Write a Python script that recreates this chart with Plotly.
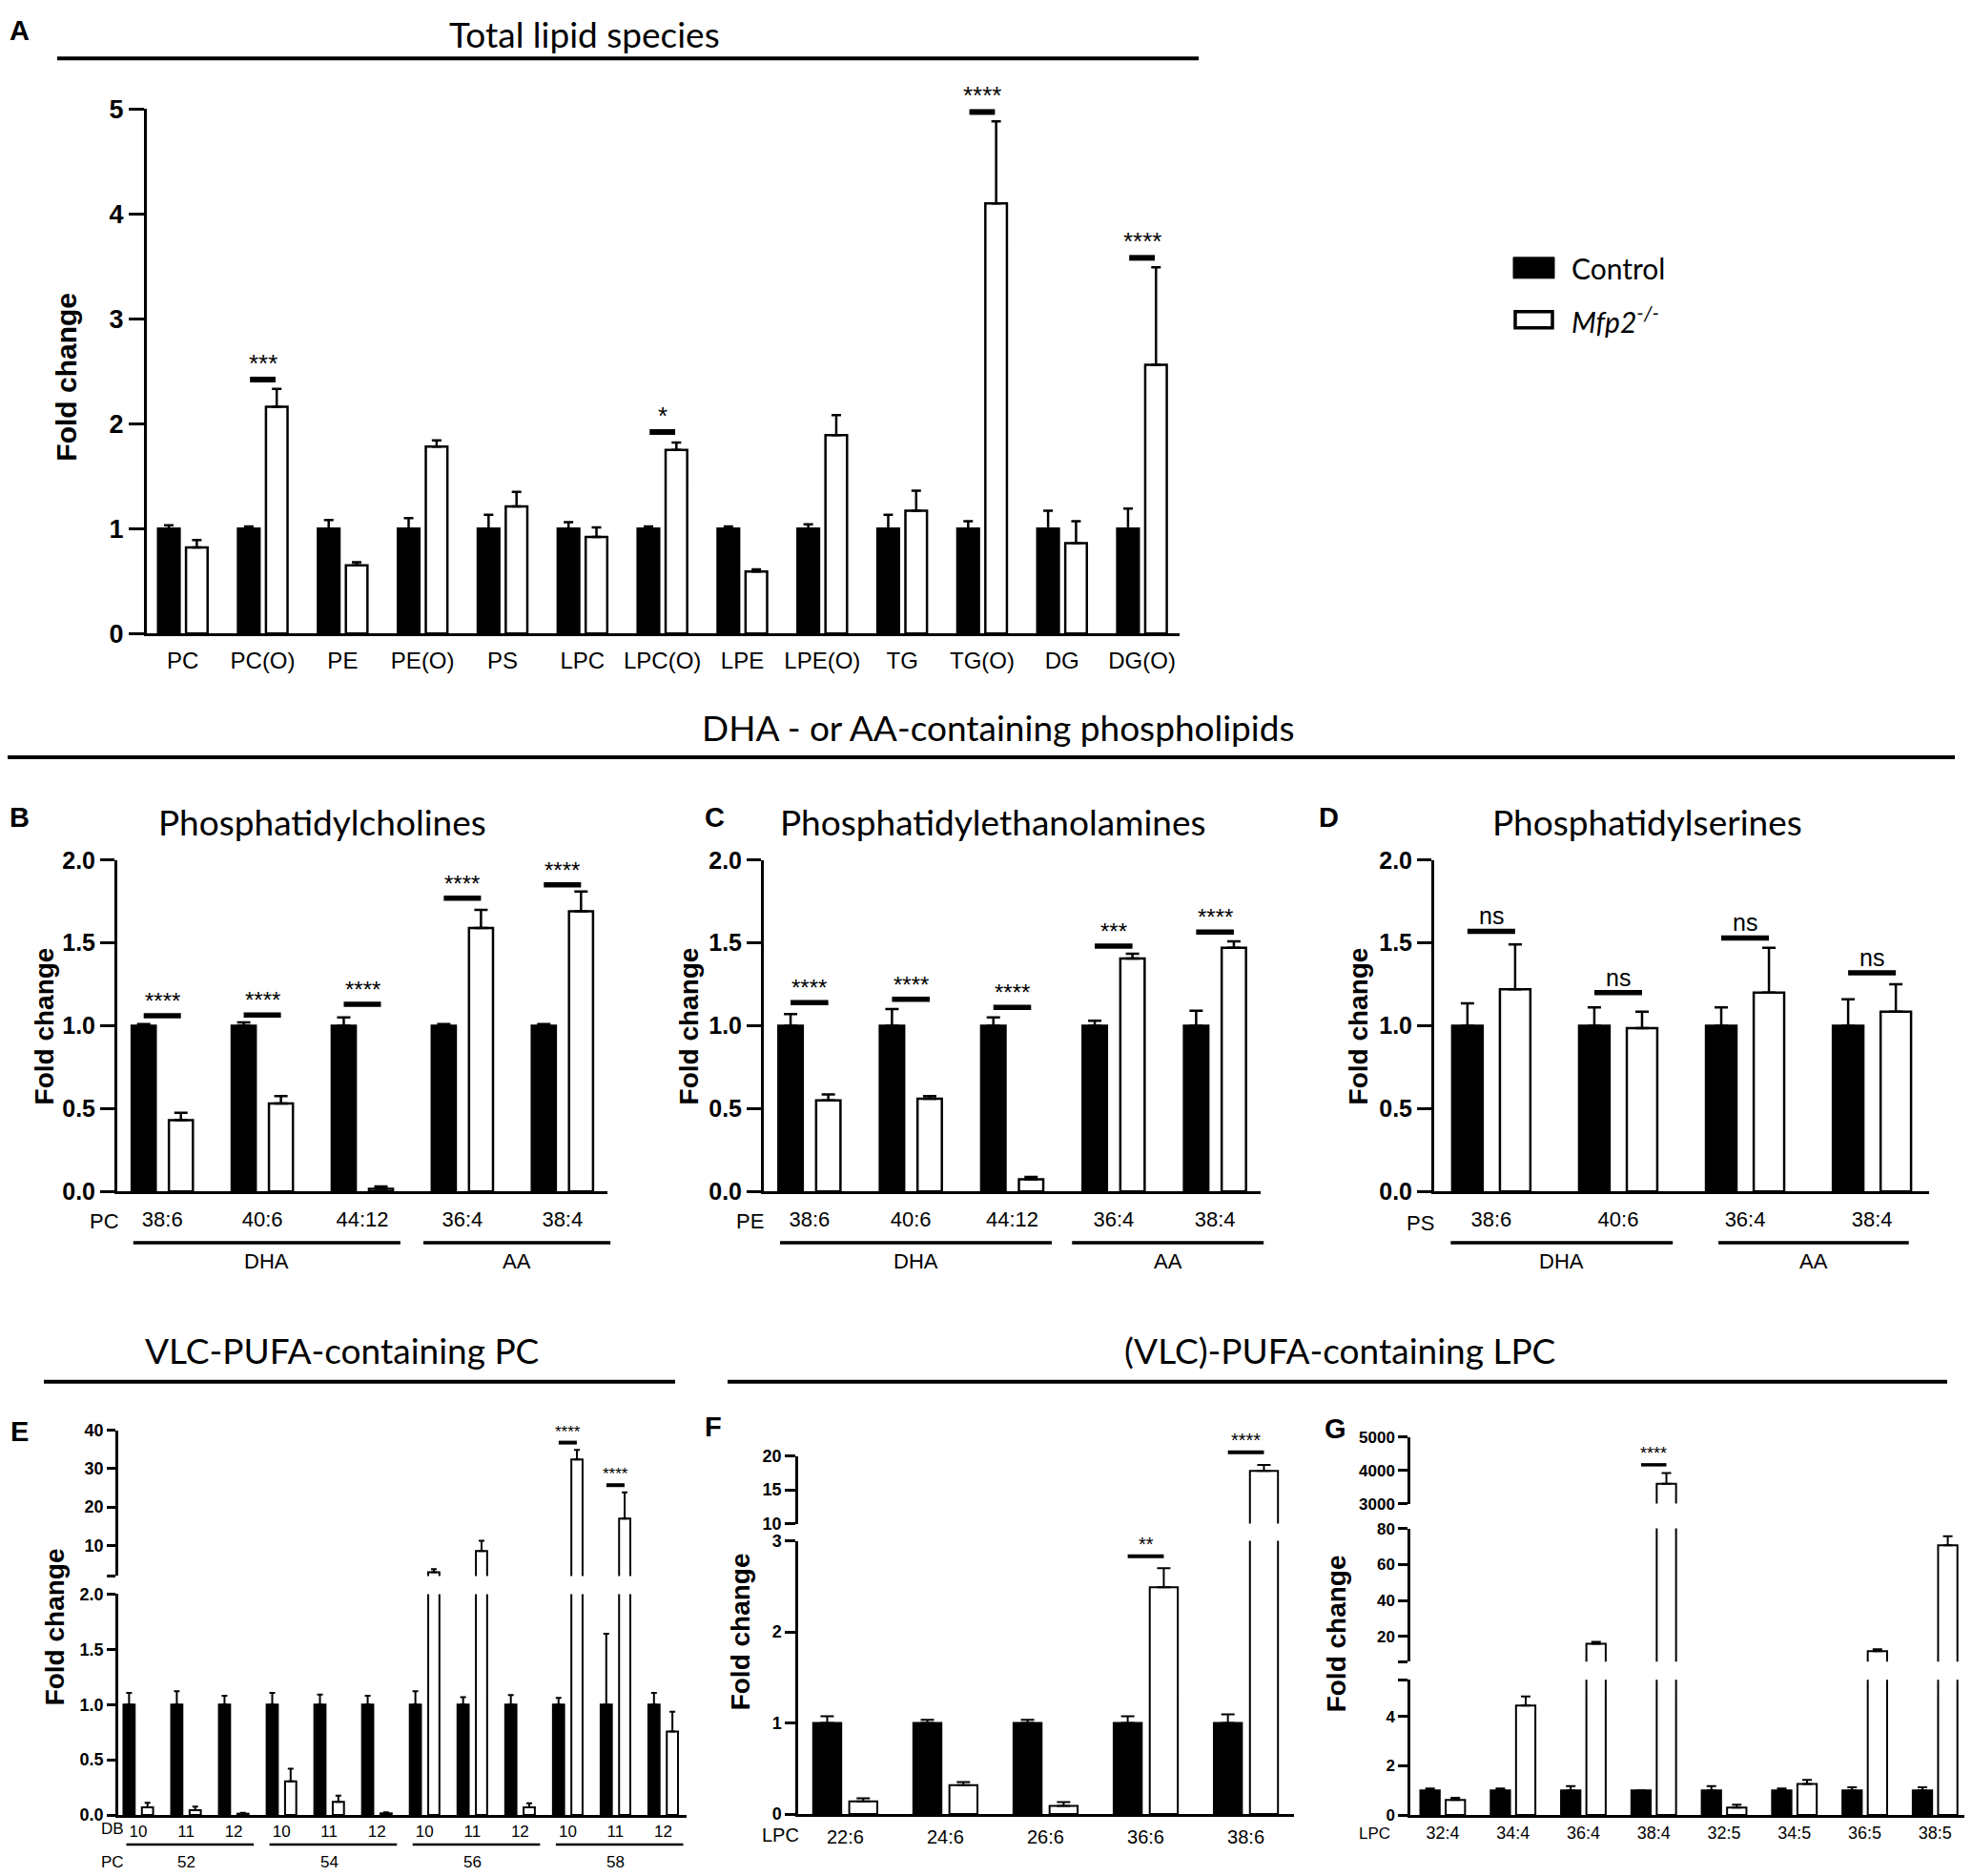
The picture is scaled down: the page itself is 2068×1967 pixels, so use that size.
import plotly.graph_objects as go

W, H = 2068, 1967
PAGE_PAD = 8          # default body margin of the html page
V_SCALE = 0.9865      # vertical squeeze seen between page and photo
V_OFF = 14 + PAGE_PAD  # page rows above the figure in the photo
FW, FH = W - 2 * PAGE_PAD, 1972

# ---------------- data ----------------
# A: total lipid species
a_cats = ["PC", "PC(O)", "PE", "PE(O)", "PS", "LPC", "LPC(O)", "LPE", "LPE(O)", "TG", "TG(O)", "DG", "DG(O)"]
a_ctrl = [1, 1, 1, 1, 1, 1, 1, 1, 1, 1, 1, 1, 1]
a_ctrl_err = [0.03, 0.02, 0.08, 0.10, 0.13, 0.06, 0.02, 0.02, 0.04, 0.13, 0.07, 0.17, 0.19]
a_mfp2 = [0.82, 2.16, 0.65, 1.78, 1.21, 0.92, 1.75, 0.59, 1.89, 1.17, 4.10, 0.86, 2.56]
a_mfp2_err = [0.07, 0.17, 0.03, 0.06, 0.14, 0.09, 0.07, 0.02, 0.19, 0.19, 0.78, 0.21, 0.93]
a_sig_idx = [1, 6, 10, 12]
a_sig_txt = ["***", "*", "****", "****"]
a_sig_y = [2.42, 1.92, 4.97, 3.58]

# B: phosphatidylcholines
b_cats = ["38:6", "40:6", "44:12", "36:4", "38:4"]
b_ctrl = [1, 1, 1, 1, 1]
b_ctrl_err = [0.01, 0.02, 0.05, 0.01, 0.01]
b_mfp2 = [0.43, 0.53, 0.016, 1.59, 1.69]
b_mfp2_err = [0.045, 0.045, 0.014, 0.11, 0.12]
b_sig_idx = [0, 1, 2, 3, 4]
b_sig_txt = ["****", "****", "****", "****", "****"]
b_sig_y = [1.06, 1.065, 1.13, 1.77, 1.85]

# C: phosphatidylethanolamines
c_cats = ["38:6", "40:6", "44:12", "36:4", "38:4"]
c_ctrl = [1, 1, 1, 1, 1]
c_ctrl_err = [0.07, 0.10, 0.05, 0.03, 0.09]
c_mfp2 = [0.55, 0.56, 0.073, 1.405, 1.47]
c_mfp2_err = [0.035, 0.015, 0.014, 0.03, 0.04]
c_sig_idx = [0, 1, 2, 3, 4]
c_sig_txt = ["****", "****", "****", "***", "****"]
c_sig_y = [1.14, 1.16, 1.11, 1.48, 1.565]

# D: phosphatidylserines
d_cats = ["38:6", "40:6", "36:4", "38:4"]
d_ctrl = [1, 1, 1, 1]
d_ctrl_err = [0.135, 0.11, 0.11, 0.16]
d_mfp2 = [1.22, 0.985, 1.20, 1.085]
d_mfp2_err = [0.27, 0.10, 0.27, 0.165]
d_sig_idx = [0, 1, 2, 3]
d_sig_txt = ["ns", "ns", "ns", "ns"]
d_sig_y = [1.57, 1.20, 1.53, 1.32]

# E: VLC-PUFA-containing PC (double bonds per PC chain length)
e_db = ["10", "11", "12", "10", "11", "12", "10", "11", "12", "10", "11", "12"]
e_pc = ["52", "54", "56", "58"]
e_ctrl = [1, 1, 1, 1, 1, 1, 1, 1, 1, 1, 1, 1]
e_ctrl_err = [0.105, 0.12, 0.08, 0.105, 0.09, 0.08, 0.12, 0.066, 0.086, 0.06, 0.64, 0.105]
e_mfp2 = [0.07, 0.044, 0.012, 0.305, 0.12, 0.015, 3.0, 8.5, 0.07, 32.4, 17.0, 0.756]
e_mfp2_err = [0.04, 0.032, 0.008, 0.115, 0.055, 0.01, 0.8, 2.7, 0.035, 2.5, 6.8, 0.18]
e_sig_idx = [9, 10]
e_sig_txt = ["****", "****"]
e_sig_y = [36.8, 25.7]
e_sig_seg = [1, 1]

# F: (VLC)-PUFA-containing LPC
f_cats = ["22:6", "24:6", "26:6", "36:6", "38:6"]
f_ctrl = [1, 1, 1, 1, 1]
f_ctrl_err = [0.074, 0.035, 0.035, 0.074, 0.095]
f_mfp2 = [0.14, 0.316, 0.09, 2.49, 17.8]
f_mfp2_err = [0.034, 0.034, 0.04, 0.21, 0.9]
f_sig_idx = [3, 4]
f_sig_txt = ["**", "****"]
f_sig_y = [2.83, 20.55]
f_sig_seg = [0, 1]

# G: LPC
g_cats = ["32:4", "34:4", "36:4", "38:4", "32:5", "34:5", "36:5", "38:5"]
g_ctrl = [1, 1, 1, 1, 1, 1, 1, 1]
g_ctrl_err = [0.08, 0.08, 0.17, 0.0, 0.17, 0.08, 0.13, 0.13]
g_mfp2 = [0.61, 4.45, 15.9, 3600, 0.30, 1.26, 11.9, 70.6]
g_mfp2_err = [0.09, 0.37, 1.1, 317, 0.12, 0.17, 1.05, 5.0]
g_sig_idx = [3]
g_sig_txt = ["****"]
g_sig_y = [4166]
g_sig_seg = [2]

# ---------------- helpers ----------------
NARROW = "Liberation Sans Narrow, Arial Narrow, Liberation Sans, Arial"
SANS = "Liberation Sans, Arial, sans-serif"
TITLE = "Lato, Open Sans, sans-serif"


def fx(x):
    return min(max((x - PAGE_PAD) / FW, 0), 1)


def fy(y):
    return 1 - (y / V_SCALE - V_OFF) / FH


def fyd(y):
    return min(max(fy(y), 0), 1)


fig = go.Figure()
layout = {}
shapes = []
annotations = []


def text(x, y, s, size, family=NARROW, bold=False, angle=0, xanchor="center", yanchor="middle"):
    annotations.append(dict(
        xref="paper", yref="paper", x=fx(x), y=fy(y), text=s, showarrow=False,
        xanchor=xanchor, yanchor=yanchor, textangle=angle,
        font=dict(family=family, size=size, color="black", weight="bold" if bold else "normal")))


def hline(x0, x1, y, w):
    shapes.append(dict(type="line", xref="paper", yref="paper", x0=fx(x0), x1=fx(x1),
                       y0=fy(y), y1=fy(y), line=dict(color="black", width=w)))


def panel(n_x, y_ids, xdom, xrng, segs, cats, ctrl, ctrl_err, mfp2, mfp2_err,
          bw, half, lw, ew, et, axw, ytick_size, xtick_size, xlab_gap, ticklen):
    xname = "x" if n_x == 1 else f"x{n_x}"
    idx = list(range(len(cats)))
    layout["xaxis" if n_x == 1 else f"xaxis{n_x}"] = dict(
        domain=[fx(xdom[0]), fx(xdom[1])], range=xrng, anchor="y" if y_ids[0] == 1 else f"y{y_ids[0]}",
        tickmode="array", tickvals=idx, ticktext=cats, showline=True, linecolor="black", linewidth=axw,
        ticks="outside" if xlab_gap > 0 else "", ticklen=max(xlab_gap, 1), tickcolor="rgba(0,0,0,0)",
        showgrid=False, zeroline=False,
        tickfont=dict(family=NARROW, size=xtick_size, color="black"), fixedrange=True)
    for yid, (ydom, yrng, tv, tt) in zip(y_ids, segs):
        yname = "y" if yid == 1 else f"y{yid}"
        layout["yaxis" if yid == 1 else f"yaxis{yid}"] = dict(
            domain=[fyd(ydom[1]), fyd(ydom[0])], range=yrng, anchor=xname,
            tickmode="array", tickvals=tv, ticktext=tt, showline=True, linecolor="black", linewidth=axw,
            ticks="outside", ticklen=ticklen, tickwidth=axw, tickcolor="black", showgrid=False, zeroline=False,
            tickfont=dict(family=NARROW, size=ytick_size, color="black", weight="bold"), fixedrange=True)
        for vals, errs, fill, off in ((ctrl, ctrl_err, "black", -half - bw / 2),
                                      (mfp2, mfp2_err, "white", half - bw / 2)):
            fig.add_trace(go.Bar(
                x=idx, y=vals, width=bw, offset=off, xaxis=xname, yaxis=yname,
                marker=dict(color=fill, line=dict(color="black", width=lw)),
                error_y=dict(type="data", array=errs, arrayminus=[0] * len(vals), symmetric=False,
                             color="black", thickness=et, width=ew),
                showlegend=False, hoverinfo="skip"))
    return xname


def sig(xname, yname, xrng, yrng, i, half, yv, s, lw, size, family=SANS):
    x0 = (i - half - xrng[0]) / (xrng[1] - xrng[0])
    x1 = (i + half - xrng[0]) / (xrng[1] - xrng[0])
    yf = (yv - yrng[0]) / (yrng[1] - yrng[0])
    shapes.append(dict(type="line", xref=f"{xname} domain", yref=f"{yname} domain",
                       x0=x0, x1=x1, y0=yf, y1=yf, line=dict(color="black", width=lw)))
    annotations.append(dict(xref=f"{xname} domain", yref=f"{yname} domain", x=(x0 + x1) / 2, y=yf,
                            text=s, showarrow=False, yanchor="bottom", xanchor="center", yshift=0,
                            font=dict(family=family, size=size, color="black")))


def group_line(xname, xrng, i0, i1, y, w):
    shapes.append(dict(type="line", xref=f"{xname} domain", yref="paper",
                       x0=(i0 - xrng[0]) / (xrng[1] - xrng[0]), x1=(i1 - xrng[0]) / (xrng[1] - xrng[0]),
                       y0=fy(y), y1=fy(y), line=dict(color="black", width=w)))


def group_label(xname, xrng, xi, y, s, size):
    annotations.append(dict(xref=f"{xname} domain", yref="paper", x=(xi - xrng[0]) / (xrng[1] - xrng[0]),
                            y=fy(y), text=s, showarrow=False, xanchor="center", yanchor="middle",
                            font=dict(family=NARROW, size=size, color="black")))


# ---------------- panel A ----------------
a_xr = [-0.45, 12.47]
a_yr = [0, 5]
xa = panel(1, [1], (154, 1237), a_xr, [((113, 664), a_yr, [0, 1, 2, 3, 4, 5], ["0", "1", "2", "3", "4", "5"])],
           a_cats, a_ctrl, a_ctrl_err, a_mfp2, a_mfp2_err,
           bw=0.27, half=0.175, lw=2.5, ew=5, et=2.5, axw=3, ytick_size=27, xtick_size=24, xlab_gap=5, ticklen=16)
for i, s, yv in zip(a_sig_idx, a_sig_txt, a_sig_y):
    sig(xa, "y", a_xr, a_yr, i, 0.16, yv, s, 6, 26)

# ---------------- panels B, C, D ----------------
bcd_ticks = ([0, 0.5, 1, 1.5, 2], ["0.0", "0.5", "1.0", "1.5", "2.0"])
b_xr = [-0.45, 4.45]
d_xr = [-0.45, 3.45]
bcd_yr = [0, 2]
for n, xdom, xr, cats, ctrl, cerr, mfp, merr, sidx, stxt, sy, bw, half, ew, sfont, sfam in (
        (2, (123, 637), b_xr, b_cats, b_ctrl, b_ctrl_err, b_mfp2, b_mfp2_err, b_sig_idx, b_sig_txt, b_sig_y,
         0.24, 0.186, 7, 24, SANS),
        (3, (801, 1322), b_xr, c_cats, c_ctrl, c_ctrl_err, c_mfp2, c_mfp2_err, c_sig_idx, c_sig_txt, c_sig_y,
         0.24, 0.186, 7, 24, SANS),
        (4, (1504, 2023), d_xr, d_cats, d_ctrl, d_ctrl_err, d_mfp2, d_mfp2_err, d_sig_idx, d_sig_txt, d_sig_y,
         0.24, 0.188, 7, 25, NARROW)):
    xn = panel(n, [n], xdom, xr, [((902, 1250), bcd_yr, bcd_ticks[0], bcd_ticks[1])],
               cats, ctrl, cerr, mfp, merr, bw=bw, half=half, lw=2.5, ew=ew, et=2.5, axw=3,
               ytick_size=25, xtick_size=22, xlab_gap=7, ticklen=15)
    for i, s, yv in zip(sidx, stxt, sy):
        sig(xn, f"y{n}", xr, bcd_yr, i, half, yv, s, 5.5, sfont, sfam)

# DHA / AA group lines
for xn, xr, spans in (("x2", b_xr, [(-0.29, 2.38, "DHA"), (2.61, 4.48, "AA")]),
                      ("x3", b_xr, [(-0.29, 2.39, "DHA"), (2.59, 4.48, "AA")]),
                      ("x4", d_xr, [(-0.32, 1.43, "DHA"), (1.79, 3.29, "AA")])):
    for i0, i1, lab in spans:
        group_line(xn, xr, i0, i1, 1304, 3.5)
        group_label(xn, xr, (i0 + i1) / 2, 1323, lab, 22)

# ---------------- panel E ----------------
e_xr = [-0.42, 11.49]
e_lo = [0, 2]
e_hi = [2, 40]
xe = panel(5, [5, 6], (124, 720), e_xr,
           [((1673, 1905), e_lo, [0, 0.5, 1, 1.5, 2], ["0.0", "0.5", "1.0", "1.5", "2.0"]),
            ((1501, 1654), e_hi, [2, 10, 20, 30, 40], ["", "10", "20", "30", "40"])],
           e_db, e_ctrl, e_ctrl_err, e_mfp2, e_mfp2_err,
           bw=0.235, half=0.193, lw=2, ew=3, et=2, axw=2.5, ytick_size=18, xtick_size=17, xlab_gap=0, ticklen=9)
e_rngs = [e_lo, e_hi]
for i, s, yv, sg in zip(e_sig_idx, e_sig_txt, e_sig_y, e_sig_seg):
    sig(xe, f"y{5 + sg}", e_xr, e_rngs[sg], i, 0.19, yv, s, 4, 17)
for k, lab in enumerate(e_pc):
    group_line(xe, e_xr, 3 * k - 0.25, 3 * k + 2.42, 1936, 2.5)
    group_label(xe, e_xr, 3 * k + 1, 1955, lab, 17)

# ---------------- panel F ----------------
f_xr = [-0.47, 4.48]
f_lo = [0, 3]
f_hi = [10, 20]
xf = panel(6, [7, 8], (837, 1357), f_xr,
           [((1617, 1904), f_lo, [0, 1, 2, 3], ["0", "1", "2", "3"]),
            ((1528, 1599), f_hi, [10, 15, 20], ["10", "15", "20"])],
           f_cats, f_ctrl, f_ctrl_err, f_mfp2, f_mfp2_err,
           bw=0.28, half=0.18, lw=2, ew=7, et=2, axw=2.5, ytick_size=18, xtick_size=20, xlab_gap=4, ticklen=11)
f_rngs = [f_lo, f_hi]
for i, s, yv, sg in zip(f_sig_idx, f_sig_txt, f_sig_y, f_sig_seg):
    sig(xf, f"y{7 + sg}", f_xr, f_rngs[sg], i, 0.18, yv, s, 4, 20)

# ---------------- panel G ----------------
g_xr = [-0.46, 7.416]
g_lo = [0, 5.5]
g_mid = [6, 80]
g_hi = [3000, 5000]
xg = panel(7, [9, 10, 11], (1479, 2060), g_xr,
           [((1763, 1905), g_lo, [0, 2, 4, 5.5], ["0", "2", "4", ""]),
            ((1604, 1744), g_mid, [6, 20, 40, 60, 80], ["", "20", "40", "60", "80"]),
            ((1508, 1578), g_hi, [3000, 4000, 5000], ["3000", "4000", "5000"])],
           g_cats, g_ctrl, g_ctrl_err, g_mfp2, g_mfp2_err,
           bw=0.275, half=0.18, lw=2, ew=5, et=2, axw=2.5, ytick_size=17, xtick_size=18, xlab_gap=1, ticklen=10)
g_rngs = [g_lo, g_mid, g_hi]
for i, s, yv, sg in zip(g_sig_idx, g_sig_txt, g_sig_y, g_sig_seg):
    sig(xg, f"y{9 + sg}", g_xr, g_rngs[sg], i, 0.18, yv, s, 3.5, 18)

# ---------------- titles, lines, labels ----------------
text(613, 34, "Total lipid species", 37, TITLE)
hline(60, 1257, 60, 4)
text(1046, 762, "DHA - or AA-containing phospholipids", 37, TITLE)
hline(8, 2050, 794, 4)
text(338, 862, "Phosphatidylcholines", 37, TITLE)
text(1041, 862, "Phosphatidylethanolamines", 37, TITLE)
text(1727, 862, "Phosphatidylserines", 37, TITLE)
text(358, 1417, "VLC-PUFA-containing PC", 37, TITLE)
hline(46, 708, 1450, 4)
text(1405, 1417, "(VLC)-PUFA-containing LPC", 37, TITLE)
hline(763, 2042, 1450, 4)

for lab, x, y in (("A", 20, 31), ("B", 20, 857), ("C", 749, 857), ("D", 1393, 857),
                  ("E", 20, 1502), ("F", 748, 1497), ("G", 1400, 1499)):
    text(x, y, lab, 29, SANS, bold=True)

for x, y, size in ((70, 395, 30), (46, 1077, 28), (722, 1077, 28), (1424, 1077, 28),
                   (57, 1708, 28), (776, 1713, 28), (1401, 1715, 28)):
    text(x, y, "Fold change", size, SANS, bold=True, angle=-90)

text(109, 1281, "PC", 22)
text(786, 1281, "PE", 22)
text(1489, 1283, "PS", 22)
text(118, 1919, "DB", 17)
text(118, 1955, "PC", 17)
text(818, 1926, "LPC", 20)
text(1441, 1925, "LPC", 17)

# legend
shapes.append(dict(type="rect", xref="paper", yref="paper", x0=fx(1587), x1=fx(1630), y0=fy(291), y1=fy(269),
                   fillcolor="black", line=dict(color="black", width=1)))
shapes.append(dict(type="rect", xref="paper", yref="paper", x0=fx(1589), x1=fx(1628), y0=fy(343), y1=fy(326),
                   fillcolor="white", line=dict(color="black", width=3.5)))
text(1646, 280, "Control", 30, TITLE, xanchor="left")
text(1646, 334, "<i>Mfp2</i><sup><i>-/-</i></sup>", 30, TITLE, xanchor="left")

fig.update_layout(
    width=FW, height=FH, margin=dict(l=0, r=0, t=0, b=0),
    paper_bgcolor="white", plot_bgcolor="white", barmode="overlay",
    shapes=shapes, annotations=annotations, **layout)

fig.write_html("out.html")
